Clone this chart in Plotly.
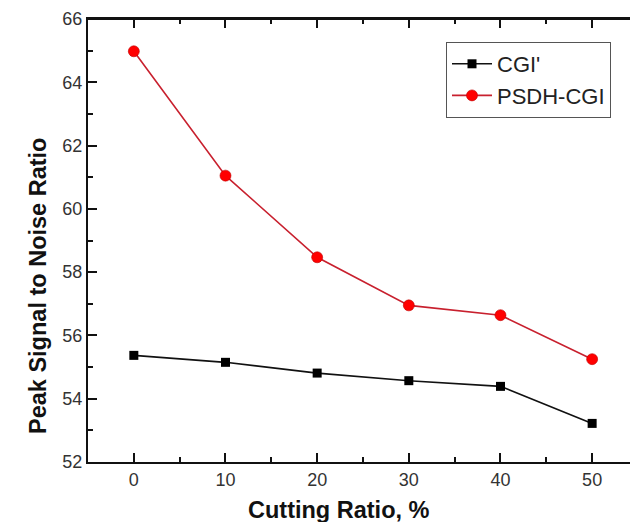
import plotly.graph_objects as go

cutting_ratio = [0, 10, 20, 30, 40, 50]
cgi_prime = [55.37, 55.15, 54.81, 54.57, 54.39, 53.22]
psdh_cgi = [64.98, 61.05, 58.47, 56.95, 56.64, 55.25]

x_tick_step = 10
y_tick_step = 2

FONT = "Arial, Liberation Sans, sans-serif"

fig = go.Figure()
fig.add_trace(go.Scatter(
    x=cutting_ratio, y=cgi_prime, name="CGI'", mode="lines+markers",
    line=dict(color="#111111", width=1.6),
    marker=dict(symbol="square", size=9, color="#000000"),
))
fig.add_trace(go.Scatter(
    x=cutting_ratio, y=psdh_cgi, name="PSDH-CGI", mode="lines+markers",
    line=dict(color="#c8202e", width=1.6),
    marker=dict(symbol="circle", size=11, color="#ff0000",
                line=dict(color="#c00000", width=0.6)),
))

axis_font = dict(family=FONT, size=18, color="#333333")

fig.update_layout(
    width=630, height=522,
    margin=dict(l=88, r=0, t=19, b=60),
    paper_bgcolor="white", plot_bgcolor="rgba(0,0,0,0)",
    showlegend=True,
    legend=dict(
        x=(446 - 88) / 542, y=(462 - 42) / 443, xanchor="left", yanchor="top",
        bordercolor="#555555", borderwidth=1, bgcolor="white",
        font=dict(family=FONT, size=22, color="#222222"),
        itemwidth=40, tracegroupgap=0,
    ),
    xaxis=dict(
        range=[-5, 54.13], tickmode="linear", tick0=0, dtick=x_tick_step,
        ticks="inside", ticklen=9, tickwidth=2, tickcolor="#111111",
        showline=True, linecolor="#111111", linewidth=2, mirror="allticks",
        layer="above traces",
        showgrid=False, zeroline=False, tickfont=axis_font,
        minor=dict(dtick=x_tick_step / 2, ticks="inside", ticklen=5, tickwidth=2,
                   tickcolor="#111111", showgrid=False),
    ),
    yaxis=dict(
        range=[52, 66], tickmode="linear", tick0=52, dtick=y_tick_step,
        ticks="inside", ticklen=9, tickwidth=2, tickcolor="#111111",
        showline=True, linecolor="#111111", linewidth=2,
        layer="above traces",
        showgrid=False, zeroline=False, tickfont=axis_font,
        minor=dict(dtick=y_tick_step / 2, ticks="inside", ticklen=5, tickwidth=2,
                   tickcolor="#111111", showgrid=False),
    ),
)

# top frame edge
fig.add_shape(type="line", xref="paper", yref="paper", x0=0, x1=1, y0=1, y1=1,
              line=dict(color="#111111", width=2), layer="above")

fig.add_annotation(
    text="<b>Cutting Ratio, %</b>", xref="paper", yref="paper",
    x=(339 - 88) / 542, y=-(510 - 462) / 443, xanchor="center", yanchor="middle",
    showarrow=False, font=dict(family=FONT, size=23.5, color="#111111"),
)
fig.add_annotation(
    text="<b>Peak Signal to Noise Ratio</b>", xref="paper", yref="paper",
    x=-(88 - 38) / 542, y=(462 - 286) / 443, xanchor="center", yanchor="middle",
    textangle=-90, showarrow=False,
    font=dict(family=FONT, size=23.5, color="#111111"),
)

fig.write_html("out.html")
